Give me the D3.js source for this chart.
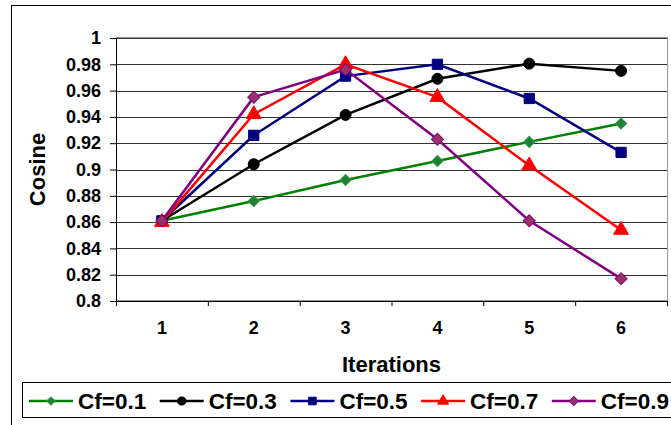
<!DOCTYPE html>
<html>
<head>
<meta charset="utf-8">
<script src="https://cdn.jsdelivr.net/npm/d3@7"></script>
<style>
  body { margin: 0; background: #fff; }
  text { font-family: "Liberation Sans", Arial, sans-serif; font-weight: bold; fill: #000; }
</style>
</head>
<body>
<div id="chart"></div>
<script>
// data
const iterations = ["1", "2", "3", "4", "5", "6"];
const seriesNames = ["Cf=0.1", "Cf=0.3", "Cf=0.5", "Cf=0.7", "Cf=0.9"];
const cf01 = [0.861, 0.876, 0.892, 0.9065, 0.921, 0.935];
const cf03 = [0.861, 0.904, 0.9415, 0.969, 0.9805, 0.975];
const cf05 = [0.861, 0.926, 0.971, 0.98, 0.954, 0.913];
const cf07 = [0.860, 0.942, 0.98, 0.955, 0.903, 0.854];
const cf09 = [0.861, 0.955, 0.976, 0.923, 0.861, 0.817];
const yTicks = [0.8, 0.82, 0.84, 0.86, 0.88, 0.9, 0.92, 0.94, 0.96, 0.98, 1];

const seriesValues = [cf01, cf03, cf05, cf07, cf09];
// diamonds are squares turned 45 degrees
const styles = [
    { line: "#008000", fill: "#1f7f35", stroke: "#2f9a45", shape: d3.symbolSquare, rot: 45, size: 62 },
    { line: "#000000", fill: "#000000", stroke: "#000000", shape: d3.symbolCircle, rot: 0, size: 95 },
    { line: "#000080", fill: "#000080", stroke: "#000080", shape: d3.symbolSquare, rot: 0, size: 105 },
    { line: "#ff0000", fill: "#ff0000", stroke: "#ff0000", shape: d3.symbolTriangle, rot: 0, size: 95 },
    { line: "#800080", fill: "#993366", stroke: "#800080", shape: d3.symbolSquare, rot: 45, size: 72 }
];

const W = 671, H = 425;
const margin = { top: 38, left: 116 };
const plotW = 551, plotH = 263;

const svg = d3.select("#chart").append("svg")
    .attr("width", W)
    .attr("height", H);

// outer chart frame
svg.append("rect")
    .attr("x", 11.5).attr("y", 5.5)
    .attr("width", 700).attr("height", 500)
    .attr("fill", "none").attr("stroke", "#000");

const graph = svg.append("g")
    .attr("transform", `translate(${margin.left},${margin.top})`);

const x = d3.scaleBand()
    .domain(iterations)
    .range([0, plotW])
    .padding(0);

const y = d3.scaleLinear()
    .domain([0.8, 1])
    .range([plotH, 0]);

// plot area border (grey)
graph.append("rect")
    .attr("x", 0.5).attr("y", -0.5)
    .attr("width", plotW).attr("height", plotH)
    .attr("fill", "none").attr("stroke", "#999");

// gridlines
graph.selectAll("line.grid")
    .data(yTicks)
    .enter()
    .append("line")
    .attr("class", "grid")
    .attr("x1", 0).attr("x2", plotW)
    .attr("y1", d => Math.round(y(d)) + 0.5)
    .attr("y2", d => Math.round(y(d)) + 0.5)
    .attr("stroke", "#333")
    .attr("stroke-width", 1);

// y axis
const yAxis = d3.axisLeft(y)
    .tickValues(yTicks)
    .tickSize(6)
    .tickSizeOuter(0)
    .tickPadding(9)
    .tickFormat(d => String(d));
const yAxisGroup = graph.append("g").call(yAxis);
yAxisGroup.selectAll("text").style("font-size", "18px").attr("fill", "#000");
yAxisGroup.selectAll("line, path").attr("stroke", "#000");

// x axis: tick marks at category edges, labels in the middle
const xEdges = d3.scaleLinear().domain([0, iterations.length]).range([0, plotW]);
const xEdgeAxis = d3.axisBottom(xEdges)
    .ticks(iterations.length)
    .tickSize(5)
    .tickSizeOuter(0)
    .tickFormat("");
const xEdgeGroup = graph.append("g")
    .attr("transform", `translate(0,${plotH})`)
    .call(xEdgeAxis);
xEdgeGroup.selectAll("line, path").attr("stroke", "#000");

const xAxis = d3.axisBottom(x).tickSize(0).tickPadding(20);
const xAxisGroup = graph.append("g")
    .attr("transform", `translate(0,${plotH})`)
    .call(xAxis);
xAxisGroup.select(".domain").remove();
xAxisGroup.selectAll("text").style("font-size", "18px").attr("fill", "#000");

// series lines and markers
const line = d3.line()
    .x((d, i) => x(iterations[i]) + x.bandwidth() / 2)
    .y(d => y(d));

seriesValues.forEach((vals, s) => {
    const st = styles[s];
    const g = graph.append("g");
    g.append("path")
        .datum(vals)
        .attr("d", line)
        .attr("fill", "none")
        .attr("stroke", st.line)
        .attr("stroke-width", 2.5);
    g.selectAll("path.marker")
        .data(vals)
        .enter()
        .append("path")
        .attr("class", "marker")
        .attr("d", d3.symbol().type(st.shape).size(st.size))
        .attr("transform", (d, i) => `translate(${x(iterations[i]) + x.bandwidth() / 2},${y(d)}) rotate(${st.rot})`)
        .attr("fill", st.fill)
        .attr("stroke", st.stroke)
        .attr("stroke-width", 1);
});

// axis titles
svg.append("text")
    .attr("transform", "rotate(-90)")
    .attr("x", -(margin.top + plotH / 2))
    .attr("y", 45)
    .attr("text-anchor", "middle")
    .style("font-size", "22px")
    .text("Cosine");

svg.append("text")
    .attr("x", margin.left + plotW / 2)
    .attr("y", 372)
    .attr("text-anchor", "middle")
    .style("font-size", "22px")
    .text("Iterations");

// legend
const legend = svg.append("g");
legend.append("rect")
    .attr("x", 22.5).attr("y", 382.5)
    .attr("width", 700).attr("height", 35)
    .attr("fill", "#fff").attr("stroke", "#000");

const items = legend.selectAll("g.item")
    .data(seriesNames)
    .enter()
    .append("g")
    .attr("class", "item")
    .attr("transform", (d, i) => `translate(${29 + i * 130.7},401)`);

items.append("line")
    .attr("x1", 0).attr("x2", 44)
    .attr("stroke", (d, i) => styles[i].line)
    .attr("stroke-width", 2.5);

items.append("path")
    .attr("d", (d, i) => d3.symbol().type(styles[i].shape).size(styles[i].size * 0.55)())
    .attr("transform", (d, i) => `translate(22,0) rotate(${styles[i].rot})`)
    .attr("fill", (d, i) => styles[i].fill)
    .attr("stroke", (d, i) => styles[i].stroke);

items.append("text")
    .attr("x", 49)
    .attr("y", 7.5)
    .style("font-size", "22.5px")
    .text(d => d);
</script>
</body>
</html>
